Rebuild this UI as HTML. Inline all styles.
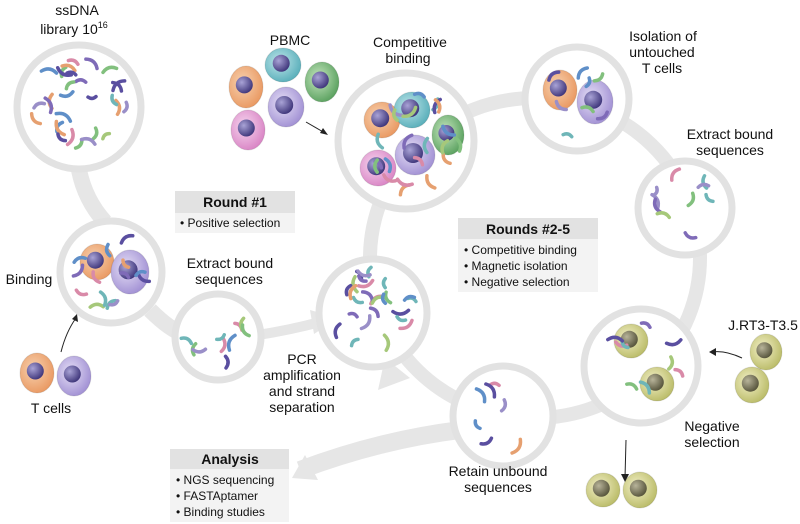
<!DOCTYPE html>
<html><head><meta charset="utf-8"><style>
html,body{margin:0;padding:0;background:#fff;}
svg{display:block;}
text{font-family:"Liberation Sans",sans-serif;font-size:14px;fill:#111;}
.h{font-weight:bold;font-size:14px;}
.s{font-size:12px;}
</style></head><body>
<svg id="s" width="800" height="524" viewBox="0 0 800 524" xmlns="http://www.w3.org/2000/svg">
<defs>
<radialGradient id="gO" cx="0.4" cy="0.4" r="0.7"><stop offset="0" stop-color="#f7d2b0"/><stop offset="1" stop-color="#e8935a"/></radialGradient>
<radialGradient id="gT" cx="0.4" cy="0.4" r="0.7"><stop offset="0" stop-color="#bfe6ea"/><stop offset="1" stop-color="#4fa9b5"/></radialGradient>
<radialGradient id="gG" cx="0.4" cy="0.4" r="0.7"><stop offset="0" stop-color="#c6e6bf"/><stop offset="1" stop-color="#4f9a55"/></radialGradient>
<radialGradient id="gP" cx="0.4" cy="0.4" r="0.7"><stop offset="0" stop-color="#e6e0f6"/><stop offset="1" stop-color="#9a88d0"/></radialGradient>
<radialGradient id="gK" cx="0.4" cy="0.4" r="0.7"><stop offset="0" stop-color="#f6d6ef"/><stop offset="1" stop-color="#d67cc0"/></radialGradient>
<radialGradient id="gY" cx="0.4" cy="0.4" r="0.7"><stop offset="0" stop-color="#f3f0c8"/><stop offset="1" stop-color="#b4b65e"/></radialGradient>
<radialGradient id="gN" cx="0.35" cy="0.35" r="0.7"><stop offset="0" stop-color="#a9a3d6"/><stop offset="1" stop-color="#3d3479"/></radialGradient>
<radialGradient id="gNy" cx="0.35" cy="0.35" r="0.7"><stop offset="0" stop-color="#b8b49a"/><stop offset="1" stop-color="#55533a"/></radialGradient>
</defs>
<g fill="none" stroke="#e6e6e6">
<ellipse cx="535" cy="258" rx="165" ry="160" stroke-width="14"/>
<path d="M79 170 Q85 200 105 222" stroke-width="16"/>
<path d="M150 310 Q170 330 185 335" stroke-width="16"/>
<path d="M258 335 Q290 330 320 322" stroke-width="10"/>
<path d="M460 430 Q380 440 300 470" stroke-width="18"/>
</g>
<polygon points="310,310 338,318 314,334" fill="#e6e6e6"/>
<polygon points="385,358 410,378 378,390" fill="#e6e6e6"/>
<polygon points="292,478 305,455 318,480" fill="#e6e6e6"/>
<g fill="#fff" stroke="#e2e2e2" stroke-width="7" id="circ">
<circle cx="79" cy="107" r="62"/>
<circle cx="111" cy="272" r="51"/>
<circle cx="218" cy="337" r="43"/>
<circle cx="373" cy="313" r="54"/>
<circle cx="406" cy="141" r="68"/>
<circle cx="577" cy="99" r="52"/>
<circle cx="685" cy="208" r="47"/>
<circle cx="641" cy="366" r="57"/>
<circle cx="503" cy="416" r="50"/>
</g>
<g id="cells"></g>
<g id="sq" fill="none" stroke-linecap="round" stroke-width="3.5"></g>
<rect x="175" y="191" width="120" height="22" fill="#e2e2e2"/><rect x="175" y="213" width="120" height="20" fill="#f3f3f3"/>
<text class="h" x="235" y="207" text-anchor="middle">Round #1</text>
<text class="s" x="180" y="227">• Positive selection</text>
<rect x="458" y="218" width="140" height="21" fill="#e2e2e2"/><rect x="458" y="239" width="140" height="53" fill="#f3f3f3"/>
<text class="h" x="528" y="234" text-anchor="middle">Rounds #2-5</text>
<text class="s" x="464" y="254">• Competitive binding</text>
<text class="s" x="464" y="270">• Magnetic isolation</text>
<text class="s" x="464" y="286">• Negative selection</text>
<rect x="170" y="449" width="119" height="20" fill="#e2e2e2"/><rect x="170" y="469" width="119" height="53" fill="#f3f3f3"/>
<text class="h" x="230" y="464" text-anchor="middle">Analysis</text>
<text class="s" x="176" y="484">• NGS sequencing</text>
<text class="s" x="176" y="500">• FASTAptamer</text>
<text class="s" x="176" y="516">• Binding studies</text>
<g text-anchor="middle">
<text x="77" y="15">ssDNA</text><text x="74" y="34">library 10<tspan font-size="9" dy="-6">16</tspan></text>
<text x="290" y="45">PBMC</text>
<text x="410" y="47">Competitive</text><text x="408" y="63">binding</text>
<text x="663" y="41">Isolation of</text><text x="662" y="57">untouched</text><text x="662" y="73">T cells</text>
<text x="730" y="139">Extract bound</text><text x="730" y="155">sequences</text>
<text x="29" y="284">Binding</text>
<text x="230" y="268">Extract bound</text><text x="229" y="284">sequences</text>
<text x="302" y="364">PCR</text><text x="302" y="380">amplification</text><text x="302" y="396">and strand</text><text x="302" y="412">separation</text>
<text x="51" y="413">T cells</text>
<text x="498" y="476">Retain unbound</text><text x="498" y="492">sequences</text>
<text x="712" y="431">Negative</text><text x="712" y="447">selection</text>
<text x="763" y="330">J.RT3-T3.5</text>
</g>
<g stroke="#222" stroke-width="1" fill="none">
<path d="M306 122 L325 133"/><path d="M61 352 Q66 332 76 318"/><path d="M742 358 Q725 350 712 352"/><path d="M626 440 L625 478"/>
</g>
<g fill="#222"><polygon points="328,135 320,133 323,128"/><polygon points="77,314 78,322 72,319"/><polygon points="709,352 716,348 716,356"/><polygon points="625,482 621,474 629,474"/></g>
</svg>
<script>
var NS="http://www.w3.org/2000/svg";
var seed=7;function r(){seed=(seed*16807)%2147483647;return seed/2147483647;}
function cell(x,y,rx,ry,g,n){var c=document.getElementById("cells");
var e=document.createElementNS(NS,"ellipse");e.setAttribute("cx",x);e.setAttribute("cy",y);e.setAttribute("rx",rx);e.setAttribute("ry",ry);e.setAttribute("fill","url(#"+g+")");e.setAttribute("stroke","rgba(0,0,0,0.1)");c.appendChild(e);
var k=document.createElementNS(NS,"circle");k.setAttribute("cx",x-rx*0.1);k.setAttribute("cy",y-ry*0.1);k.setAttribute("r",Math.min(rx,ry)*0.5);k.setAttribute("fill","url(#"+(n||"gN")+")");c.appendChild(k);}
[[246,87,17,21,"gO"],[283,65,18,17,"gT"],[322,82,17,20,"gG"],[286,107,18,20,"gP"],[248,130,17,20,"gK"],
[37,373,17,20,"gO"],[74,376,17,20,"gP"],
[382,120,18,18,"gO"],[412,110,18,18,"gT"],[448,135,16,20,"gG"],[415,155,20,20,"gP"],[378,168,18,18,"gK"],
[97,262,17,18,"gO"],[130,272,19,22,"gP"],[560,90,17,20,"gO"],[595,102,18,22,"gP"]].forEach(function(a){cell(a[0],a[1],a[2],a[3],a[4]);});
[[766,352,16,18],[752,385,17,18],[631,341,17,17],[657,384,17,17],[603,490,17,17],[640,490,17,18]].forEach(function(a){cell(a[0],a[1],a[2],a[3],"gY","gNy");});
var cols=["#7f6bb8","#5f8fc8","#6fb6b8","#82c07e","#e6a070","#d98aa8","#9a8fc8","#a6c87a","#5a4fa0"];
var sq=document.getElementById("sq");
function many(cx,cy,R,n){for(var i=0;i<n;i++){var a=r()*6.283,d=Math.sqrt(r())*R;var x=cx+Math.cos(a)*d,y=cy+Math.sin(a)*d;
var t=r()*6.283,L=4+r()*4;var dx=Math.cos(t)*L,dy=Math.sin(t)*L;
var p=document.createElementNS(NS,"path");p.setAttribute("d","M"+(x-dx)+" "+(y-dy)+" Q"+(x+dy*0.8)+" "+(y-dx*0.8)+" "+(x+dx)+" "+(y+dy));
p.setAttribute("stroke",cols[Math.floor(r()*cols.length)]);sq.appendChild(p);}}
many(79,107,48,30);many(111,272,38,14);many(218,337,32,10);many(373,313,42,26);many(406,141,52,22);many(577,99,38,8);many(685,208,35,10);many(641,366,42,9);many(503,416,36,7);
</script>
</body></html>
